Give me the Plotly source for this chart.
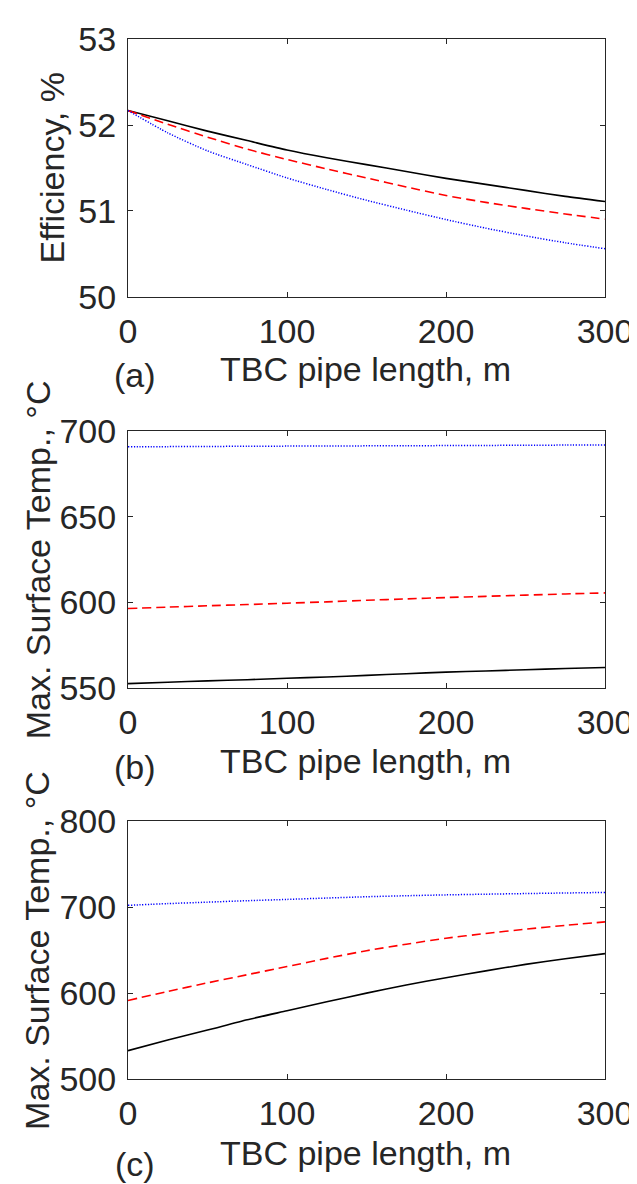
import plotly.graph_objects as go

# ---------------- data ----------------
length_m = [0, 25, 50, 75, 100, 125, 150, 175, 200, 225, 250, 275, 300]

# (a) Efficiency, %
eff_black = [52.17, 52.05, 51.93, 51.82, 51.71, 51.62, 51.54, 51.46, 51.38, 51.31, 51.24, 51.17, 51.11]
eff_red   = [52.17, 52.01, 51.86, 51.72, 51.60, 51.49, 51.385, 51.28, 51.18, 51.10, 51.03, 50.965, 50.905]
eff_blue  = [52.17, 51.91, 51.70, 51.54, 51.385, 51.25, 51.125, 51.01, 50.90, 50.80, 50.71, 50.63, 50.56]

# (b) Max. surface temperature, °C
tb_black = [552.7, 553.5, 554.3, 555.0, 555.8, 556.6, 557.5, 558.5, 559.4, 560.1, 560.8, 561.5, 562.1]
tb_red   = [596.5, 597.3, 598.1, 598.8, 599.6, 600.4, 601.3, 602.1, 602.9, 603.6, 604.3, 605.0, 605.6]
tb_blue  = [690.8, 690.9, 691.0, 691.1, 691.2, 691.25, 691.35, 691.45, 691.5, 691.6, 691.7, 691.8, 691.9]

# (c) Max. surface temperature, °C
tc_black = [533.0, 545.5, 557.0, 569.0, 579.5, 590.0, 600.0, 609.5, 618.0, 626.0, 633.5, 640.0, 646.0]
tc_red   = [591.5, 602.0, 612.0, 621.5, 631.0, 640.5, 649.5, 657.0, 664.0, 669.5, 674.5, 679.0, 683.0]
tc_blue  = [702.3, 704.3, 706.0, 707.7, 709.2, 710.8, 712.3, 713.5, 714.5, 715.3, 716.0, 716.7, 717.3]

x_ticks = [0, 100, 200, 300]
ya_ticks = [50, 51, 52, 53]
yb_ticks = [550, 600, 650, 700]
yc_ticks = [500, 600, 700, 800]

x_title = "TBC pipe length, m"
ya_title = "Efficiency, %"
yt_title = "Max. Surface Temp., °C"
panel_tags = ["(a)", "(b)", "(c)"]

# ---------------- figure ----------------
W, H = 637, 1184
ML, MR, MT, MB = 120, 31, 17, 113
FONT = "Liberation Sans, Arial, sans-serif"
TXT = "#262626"
FS = 34

fig = go.Figure()

styles = [
    dict(color="#000000", width=1.6, dash="solid"),
    dict(color="#FF0000", width=1.6, dash="9px,5px"),
    dict(color="#0000FF", width=1.5, dash="1.2px,1.6px"),
]

panels = [
    ("x", "y", [eff_black, eff_red, eff_blue]),
    ("x2", "y2", [tb_black, tb_red, tb_blue]),
    ("x3", "y3", [tc_black, tc_red, tc_blue]),
]
for xa, ya, series in panels:
    for s, st in zip(series, styles):
        fig.add_trace(go.Scatter(x=length_m, y=s, mode="lines",
                                 line=dict(st, shape="spline", smoothing=0.6),
                                 xaxis=xa, yaxis=ya, showlegend=False,
                                 hoverinfo="skip"))

axis_common = dict(
    showline=True, linecolor=TXT, linewidth=1, mirror="allticks",
    ticks="inside", ticklen=5, tickcolor=TXT, tickwidth=1,
    showgrid=False, zeroline=False,
    tickfont=dict(family=FONT, size=FS, color=TXT),
)

plot_h = H - MT - MB
def dom(top_px, bottom_px):
    return [(H - MB - bottom_px) / plot_h, (H - MB - top_px) / plot_h]

doms = [dom(17.3, 278.3), dom(414.3, 675.0), dom(810.0, 1071.0)]
yranges = [[50, 53], [550, 700], [500, 800]]
yticks = [ya_ticks, yb_ticks, yc_ticks]

layout = dict(
    width=W, height=H,
    margin=dict(l=ML, r=MR, t=MT, b=MB),
    paper_bgcolor="white", plot_bgcolor="white",
    showlegend=False,
)
for i in range(3):
    sx = "" if i == 0 else str(i + 1)
    layout["xaxis" + sx] = dict(axis_common, range=[0, 300], tickvals=x_ticks,
                                anchor="y" + sx, domain=[0, 1],
                                ticklabelstandoff=4)
    layout["yaxis" + sx] = dict(axis_common, range=yranges[i], tickvals=yticks[i],
                                anchor="x" + sx, domain=doms[i],
                                ticklabelstandoff=4)
fig.update_layout(**layout)

def px2paper(px, py):
    return (px - ML) / (W - ML - MR), (H - MB - py) / plot_h

ann = []
# x titles
for cy in [351, 749, 1146]:
    x, y = px2paper(362, cy)
    ann.append(dict(text=x_title, x=x, y=y, xref="paper", yref="paper",
                    xanchor="center", yanchor="middle", showarrow=False,
                    font=dict(family=FONT, size=FS, color=TXT)))
# panel tags
for tag, cy in zip(panel_tags, [358, 755, 1157]):
    x, y = px2paper(127, cy)
    ann.append(dict(text=tag, x=x, y=y, xref="paper", yref="paper",
                    xanchor="center", yanchor="middle", showarrow=False,
                    borderpad=0,
                    font=dict(family=FONT, size=FS, color=TXT)))
# y titles
for txt, cx, cy in [(ya_title, 43, 147.8), (yt_title, 28, 544.6), (yt_title, 28, 940.5)]:
    x, y = px2paper(cx, cy)
    ann.append(dict(text=txt, x=x, y=y, xref="paper", yref="paper",
                    xanchor="center", yanchor="middle", showarrow=False,
                    textangle=-90,
                    font=dict(family=FONT, size=FS, color=TXT)))
fig.update_layout(annotations=ann)

fig.write_html("out.html")
